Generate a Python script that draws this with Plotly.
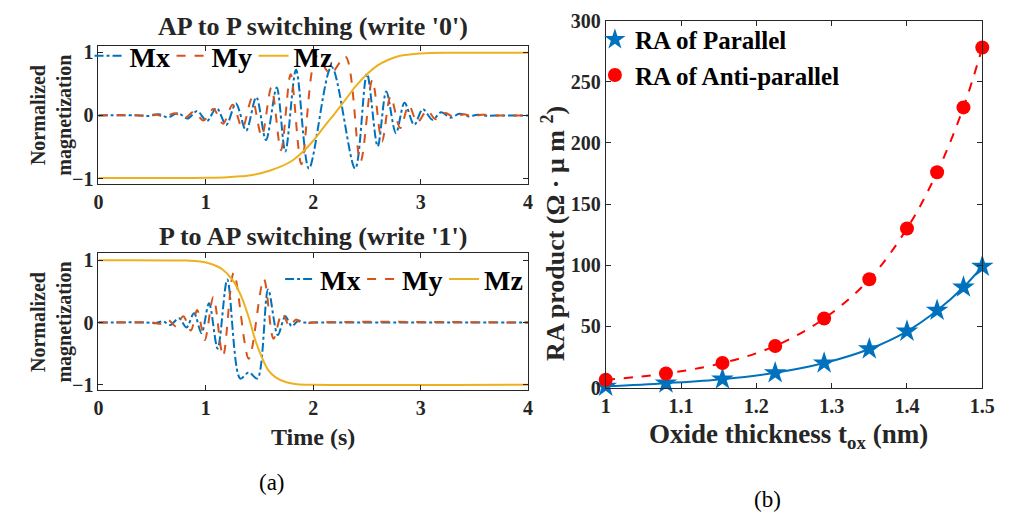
import plotly.graph_objects as go

# ---------------- data ----------------
# (a) top: AP -> P switching (write '0')
t_mx_top = [0, 0.40, 0.47, 0.56, 0.65, 0.74, 0.83, 0.92, 1.01, 1.10, 1.19, 1.28, 1.375, 1.47, 1.56, 1.66,
            1.74, 1.84, 1.96, 2.17, 2.39, 2.50, 2.60, 2.68, 2.77, 2.85, 2.94, 3.02, 3.11, 3.19, 3.28, 3.36,
            3.45, 3.53, 3.62, 3.75, 4.0]
mx_top = [0, 0, -0.01, 0.02, -0.03, 0.04, -0.05, 0.07, -0.09, 0.12, -0.15, 0.19, -0.24, 0.29, -0.39, 0.44,
          -0.57, 0.72, -0.84, 0.77, -0.84, 0.66, -0.49, 0.38, -0.28, 0.20, -0.15, 0.10, -0.07, 0.05, -0.035, 0.025,
          -0.015, 0.01, -0.005, 0, 0]
t_my_top = [0, 0.38, 0.44, 0.53, 0.62, 0.71, 0.80, 0.89, 0.98, 1.07, 1.16, 1.25, 1.34, 1.43, 1.52, 1.61,
            1.70, 1.79, 1.89, 2.03, 2.16, 2.30, 2.44, 2.55, 2.64, 2.72, 2.81, 2.89, 2.97, 3.06, 3.14, 3.23,
            3.31, 3.40, 3.48, 3.57, 3.70, 4.0]
my_top = [0, 0, -0.01, 0.015, -0.02, 0.035, -0.045, 0.06, -0.08, 0.10, -0.13, 0.17, -0.20, 0.27, -0.33, 0.44,
          -0.55, 0.65, -0.77, 0.93, 0.66, 0.93, -0.73, 0.56, -0.41, 0.30, -0.20, 0.16, -0.11, 0.08, -0.06, 0.04,
          -0.03, 0.02, -0.015, 0.01, 0, 0]
t_mz_top = [0, 0.8, 1.0, 1.2, 1.4, 1.6, 1.8, 1.9, 2.0, 2.1, 2.2, 2.3, 2.4, 2.5, 2.6, 2.7, 2.8, 3.0, 3.3, 4.0]
mz_top = [-0.99, -0.99, -0.985, -0.975, -0.95, -0.87, -0.72, -0.58, -0.40, -0.18, 0.03, 0.25, 0.47, 0.65,
          0.79, 0.88, 0.94, 0.98, 0.99, 0.99]

# (a) bottom: P -> AP switching (write '1')
t_mx_bot = [0, 0.45, 0.53, 0.60, 0.67, 0.75, 0.82, 0.89, 0.96, 1.03, 1.11, 1.20, 1.32, 1.40, 1.48, 1.58,
            1.67, 1.74, 1.80, 1.86, 1.92, 2.0, 4.0]
mx_bot = [0, 0, -0.01, 0.02, -0.04, 0.07, -0.08, 0.15, -0.17, 0.31, -0.42, 0.69, -0.90, -0.80, -0.90, 0.53,
          -0.20, 0.10, -0.06, 0.03, 0, 0, 0]
t_my_bot = [0, 0.50, 0.58, 0.65, 0.72, 0.79, 0.86, 0.92, 0.99, 1.07, 1.16, 1.26, 1.40, 1.54, 1.63, 1.71,
            1.78, 1.84, 1.90, 2.0, 4.0]
my_bot = [0, 0, -0.02, 0.04, -0.06, 0.10, -0.13, 0.20, -0.28, 0.41, -0.54, 0.80, -0.58, 0.70, -0.26, 0.15,
          -0.06, 0.05, -0.02, 0, 0]
t_mz_bot = [0, 0.8, 0.95, 1.05, 1.15, 1.25, 1.33, 1.40, 1.46, 1.52, 1.58, 1.65, 1.75, 1.85, 2.0, 4.0]
mz_bot = [1.0, 0.995, 0.98, 0.94, 0.86, 0.68, 0.42, 0.08, -0.28, -0.55, -0.76, -0.88, -0.96, -0.99, -1.0, -1.0]

# (b) RA product vs oxide thickness
tox = [1.0, 1.08, 1.155, 1.225, 1.29, 1.35, 1.40, 1.44, 1.475, 1.50]
ra_parallel = [1.0, 3.6, 6.8, 12, 20, 31.5, 46, 63, 82, 99]
ra_antiparallel = [6.3, 11.5, 20, 34, 56.4, 88.5, 130, 176, 229, 278]

left_xticks = [0, 1, 2, 3, 4]
left_yticks = [-1, 0, 1]
right_xticks = [1, 1.1, 1.2, 1.3, 1.4, 1.5]
right_yticks = [0, 50, 100, 150, 200, 250, 300]

# ---------------- styling ----------------
BLUE = "#0072BD"
ORANGE = "#D95319"
YELLOW = "#EDB120"
RED = "#FF0000"
AX = "#262626"
FONT = "Liberation Serif"
W, H = 1011, 525
NB = "\u00a0"

fig = go.Figure()


def add_mag(tx, x, ty, y, tz, z, xa, ya, leg):
    fig.add_trace(go.Scatter(x=tx, y=x, mode="lines", name="Mx", line=dict(color=BLUE, width=2, dash="dashdot", shape="spline", smoothing=0.9),
                             xaxis=xa, yaxis=ya, legend=leg))
    fig.add_trace(go.Scatter(x=ty, y=y, mode="lines", name="My", line=dict(color=ORANGE, width=2, dash="dash", shape="spline", smoothing=0.9),
                             xaxis=xa, yaxis=ya, legend=leg))
    fig.add_trace(go.Scatter(x=tz, y=z, mode="lines", name="Mz", line=dict(color=YELLOW, width=2, shape="spline", smoothing=0.9),
                             xaxis=xa, yaxis=ya, legend=leg))


add_mag(t_mx_top, mx_top, t_my_top, my_top, t_mz_top, mz_top, "x", "y", "legend")
add_mag(t_mx_bot, mx_bot, t_my_bot, my_bot, t_mz_bot, mz_bot, "x2", "y2", "legend2")

fig.add_trace(go.Scatter(x=tox, y=ra_parallel, mode="lines", showlegend=False,
                         line=dict(color=BLUE, width=2, shape="spline"), xaxis="x3", yaxis="y3"))
fig.add_trace(go.Scatter(x=tox, y=ra_antiparallel, mode="lines", showlegend=False,
                         line=dict(color=RED, width=2, dash="dash", shape="spline"), xaxis="x3", yaxis="y3"))
fig.add_trace(go.Scatter(x=tox, y=ra_parallel, mode="markers", name="RA of Parallel",
                         marker=dict(symbol="star", size=17, color=BLUE, line=dict(width=0)), cliponaxis=False,
                         xaxis="x3", yaxis="y3", legend="legend3"))
fig.add_trace(go.Scatter(x=tox, y=ra_antiparallel, mode="markers", name="RA of Anti-parallel",
                         marker=dict(symbol="circle", size=14, color=RED, line=dict(width=0)), cliponaxis=False,
                         xaxis="x3", yaxis="y3", legend="legend3"))

tickfont = dict(family=FONT, size=20, color="#262626", weight="bold")
axcommon = dict(showline=True, linecolor=AX, linewidth=1, mirror="ticks", ticks="inside", ticklen=5,
                tickcolor=AX, showgrid=False, zeroline=False, tickfont=tickfont)

xl = [95 / W, 532 / W]
legfont = dict(family=FONT, size=28, color="black", weight="bold")
fig.update_layout(
    width=W, height=H, margin=dict(l=0, r=0, t=0, b=0),
    paper_bgcolor="white", plot_bgcolor="white",
    xaxis=dict(domain=xl, range=[0, 4], tickvals=left_xticks, anchor="y", **axcommon),
    yaxis=dict(domain=[1 - 181 / H, 1 - 37 / H], range=[-1.09, 1.09], tickvals=left_yticks, anchor="x", **axcommon),
    xaxis2=dict(domain=xl, range=[0, 4], tickvals=left_xticks, anchor="y2", **axcommon),
    yaxis2=dict(domain=[1 - 396 / H, 1 - 253 / H], range=[-1.09, 1.11], tickvals=left_yticks, anchor="x2", **axcommon),
    xaxis3=dict(domain=[611 / W, 994 / W], range=[1, 1.5], tickvals=right_xticks, ticktext=["1", "1.1", "1.2", "1.3", "1.4", "1.5"],
                anchor="y3", **axcommon),
    yaxis3=dict(domain=[1 - 393 / H, 1 - 10 / H], range=[0, 300], tickvals=right_yticks, anchor="x3", **axcommon),
    legend=dict(x=86 / W, y=1 - 47 / H, xanchor="left", yanchor="middle", orientation="h", bgcolor="rgba(0,0,0,0)",
                font=legfont, itemwidth=30, entrywidth=37, tracegroupgap=0),
    legend2=dict(x=530 / W, y=1 - 280 / H, xanchor="right", yanchor="middle", orientation="h", bgcolor="rgba(0,0,0,0)",
                 font=legfont, itemwidth=30, entrywidth=37),
    legend3=dict(x=600 / W, y=1 - 6 / H, xanchor="left", yanchor="top", bgcolor="rgba(0,0,0,0)",
                 font=dict(family=FONT, size=25, color="black", weight="bold"), itemwidth=30, tracegroupgap=0),
)

ann_font = dict(family=FONT, size=26, color="#262626", weight="bold")
ylab_font = dict(family=FONT, size=20, color="#262626", weight="bold")
right_font = dict(family=FONT, size=26, color="#262626", weight="bold")
annotations = [
    dict(text="AP to P switching (write '0')", x=313 / W, y=1 - 16 / H, xref="paper", yref="paper",
         showarrow=False, font=ann_font, xanchor="center", yanchor="middle"),
    dict(text="P to AP switching (write '1')", x=313 / W, y=1 - 235 / H, xref="paper", yref="paper",
         showarrow=False, font=ann_font, xanchor="center", yanchor="middle"),
    dict(text="Normalized<br>magnetization", x=47 / W, y=1 - 109 / H, xref="paper", yref="paper", textangle=-90,
         showarrow=False, font=ylab_font, xanchor="center", yanchor="middle"),
    dict(text="Normalized<br>magnetization", x=47 / W, y=1 - 325 / H, xref="paper", yref="paper", textangle=-90,
         showarrow=False, font=ylab_font, xanchor="center", yanchor="middle"),
    dict(text="Time (s)", x=313 / W, y=1 - 445 / H, xref="paper", yref="paper",
         showarrow=False, font=dict(family=FONT, size=24, color="#262626", weight="bold"), xanchor="center", yanchor="middle"),
    dict(text="RA product (Ω" + NB + "·" + NB + "μ" + NB + "m" + NB + "<sup>2</sup>)", x=558 / W, y=1 - 232 / H,
         xref="paper", yref="paper", textangle=-90,
         showarrow=False, font=right_font, xanchor="center", yanchor="middle"),
    dict(text="Oxide thickness t<sub>ox</sub>" + NB + "(nm)", x=797 / W, y=1 - 444 / H, xref="paper", yref="paper",
         showarrow=False, font=dict(family=FONT, size=27, color="#262626", weight="bold"), xanchor="center", yanchor="middle"),
    dict(text="(a)", x=272 / W, y=1 - 492 / H, xref="paper", yref="paper",
         showarrow=False, font=dict(family=FONT, size=23, color="black"), xanchor="center", yanchor="middle"),
    dict(text="(b)", x=776 / W, y=1 - 510 / H, xref="paper", yref="paper",
         showarrow=False, font=dict(family=FONT, size=23, color="black"), xanchor="center", yanchor="middle"),
]
fig.update_layout(annotations=annotations)

fig.write_html("out.html")
